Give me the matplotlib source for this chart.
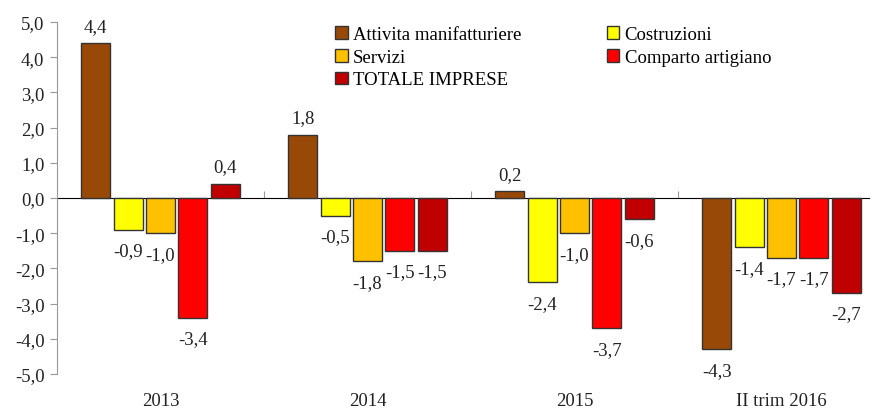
import numpy as np
import matplotlib
matplotlib.use('Agg')
import matplotlib.pyplot as plt
from matplotlib.ticker import FuncFormatter

plt.rcParams['font.family'] = ['Liberation Serif', 'DejaVu Serif']

# data
gruppi = ['2013', '2014', '2015', 'II trim 2016']
serie = ['Attivita manifatturiere', 'Costruzioni', 'Servizi',
         'Comparto artigiano', 'TOTALE IMPRESE']
manifattura = [4.4, 1.8, 0.2, -4.3]
costruzioni = [-0.9, -0.5, -2.4, -1.4]
servizi = [-1.0, -1.8, -1.0, -1.7]
artigiano = [-3.4, -1.5, -3.7, -1.7]
totale = [0.4, -1.5, -0.6, -2.7]
colori = ['#984807', '#FFFF00', '#FFC000', '#FF0000', '#C00000']

valori = [manifattura, costruzioni, servizi, artigiano, totale]

fig = plt.figure(figsize=(8.74, 4.10), dpi=100)
ax = fig.add_axes([0.0652, 0.0854, 0.9291, 0.8585])

fs = 13.5
x = np.arange(len(gruppi))
step = 0.1565
w = 0.14
for i, (nome, v, c) in enumerate(zip(serie, valori, colori)):
    pos = x + (i - 2) * step
    bars = ax.bar(pos, v, w, color=c, edgecolor='#333333', linewidth=1.0,
                  label=nome, zorder=3)
    for b, val in zip(bars, v):
        txt = ('%.1f' % val).replace('.', ',')
        if val >= 0:
            ax.annotate(txt, (b.get_x() + b.get_width() / 2, val),
                        xytext=(0, 6), textcoords='offset points',
                        ha='center', va='bottom', fontsize=fs, color='#222222')
        else:
            ax.annotate(txt, (b.get_x() + b.get_width() / 2, val),
                        xytext=(0, -9), textcoords='offset points',
                        ha='center', va='top', fontsize=fs, color='#222222')

# last group is cut off slightly on the right, as in the original
ax.set_xlim(-0.5, 3.423)
ax.set_ylim(-5, 5)
ax.set_yticks(np.arange(-5, 5.1, 1))
ax.yaxis.set_major_formatter(FuncFormatter(lambda v, p: ('%.1f' % v).replace('.', ',')))
ax.tick_params(axis='y', direction='out', length=5, color='#999999',
               labelsize=fs, labelcolor='#222222', pad=4)

ax.set_xticks(x)
ax.set_xticklabels(gruppi)
ax.tick_params(axis='x', length=0, labelsize=fs, labelcolor='#222222', pad=13)

for s in ['top', 'right', 'bottom']:
    ax.spines[s].set_visible(False)
ax.spines['left'].set_color('#999999')

# zero line with group separator ticks
sec = ax.secondary_xaxis(0.5)
sec.set_xticks(x[:-1] + 0.5)
sec.set_xticklabels([])
sec.tick_params(direction='out', length=5, color='#999999')
sec.spines['bottom'].set_color('#999999')

# legend in two columns, filled row by row
h, l = ax.get_legend_handles_labels()
order = [0, 2, 4, 1, 3]
ax.legend([h[k] for k in order], [l[k] for k in order], ncol=2, loc='upper left',
          bbox_to_anchor=(0.322, 1.036), frameon=False, fontsize=fs,
          handlelength=0.65, handleheight=0.65, handletextpad=0.3,
          columnspacing=4.55, labelspacing=0.3)

fig.savefig('out.png', dpi=100)
